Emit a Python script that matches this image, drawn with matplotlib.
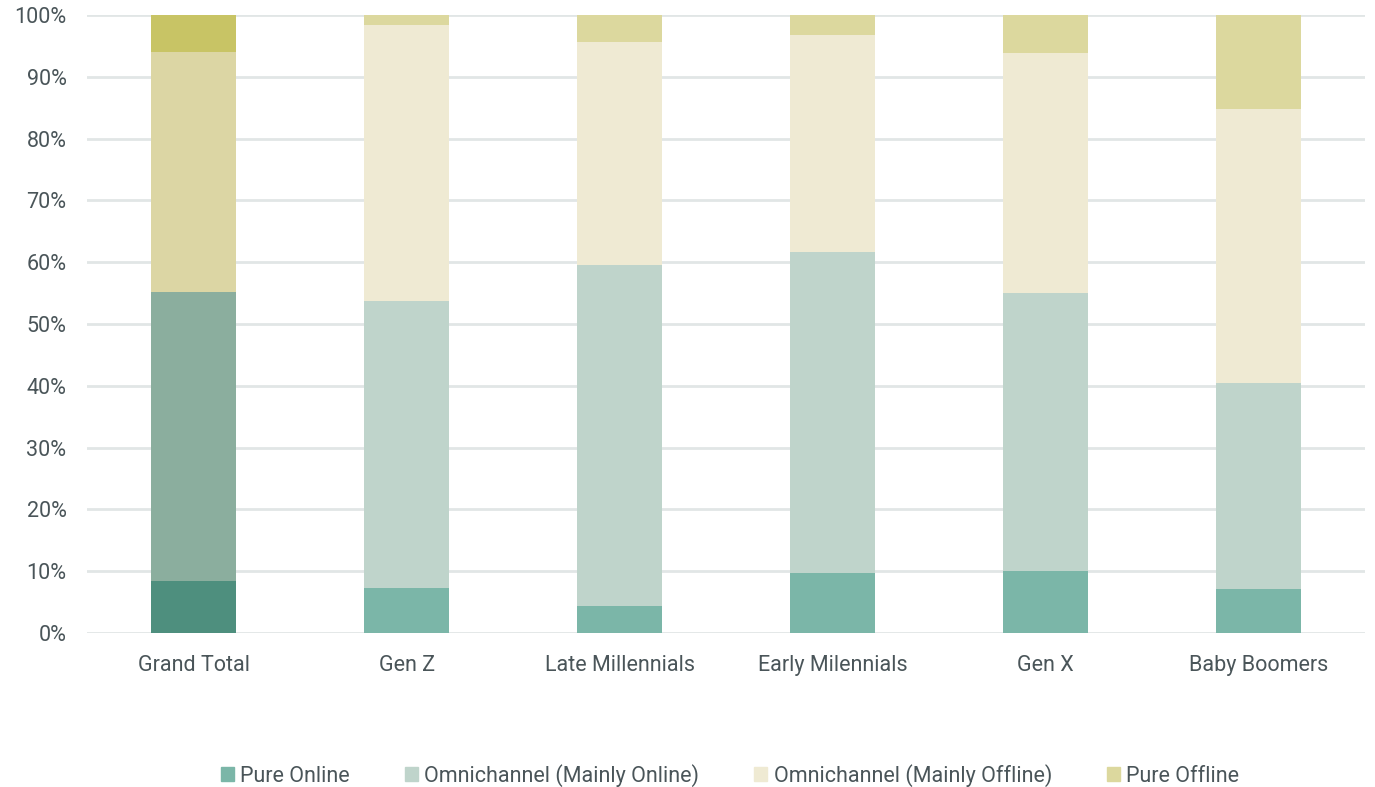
import numpy as np
import matplotlib.pyplot as plt

categories = ["Grand Total", "Gen Z", "Late Millennials", "Early Milennials", "Gen X", "Baby Boomers"]
series = ["Pure Online", "Omnichannel (Mainly Online)", "Omnichannel (Mainly Offline)", "Pure Offline"]

pure_online = [8.4, 7.3, 4.4, 9.7, 10.0, 7.1]
omni_online = [46.8, 46.4, 55.1, 52.0, 45.0, 33.4]
omni_offline = [38.8, 44.7, 36.1, 35.1, 38.9, 44.3]
pure_offline = [6.0, 1.6, 4.4, 3.2, 6.1, 15.2]

light = ["#7BB6A8", "#BFD4CB", "#EFEAD3", "#DCD89E"]
dark = ["#4E8F7E", "#8BAE9E", "#DCD6A4", "#C8C465"]
text_col = "#4A5559"

plt.rcParams['font.family'] = ['Roboto', 'DejaVu Sans']

fig = plt.figure(figsize=(13.75, 7.87), dpi=100)
ax = fig.add_axes([0.0635, 0.1957, 0.929, 0.7853])

x = np.arange(len(categories))
bottom = np.zeros(len(categories))
for i, vals in enumerate([pure_online, omni_online, omni_offline, pure_offline]):
    cols = [dark[i]] + [light[i]] * (len(categories) - 1)
    ax.bar(x, vals, 0.4, bottom=bottom, color=cols, label=series[i], zorder=3)
    bottom += np.array(vals)

ax.set_xlim(-0.5, len(categories) - 0.5)
ax.set_ylim(0, 100)
ax.set_yticks(np.arange(0, 101, 10))
ax.set_yticklabels([f"{v}%" for v in range(0, 101, 10)])
ax.set_xticks(x)
ax.set_xticklabels(categories)
ax.grid(axis='y', color='#E1E6E6', linewidth=2, zorder=0)
for s in ax.spines.values():
    s.set_visible(False)
ax.tick_params(length=0, labelsize=15.5, colors=text_col)
ax.tick_params(axis='y', pad=15)
ax.tick_params(axis='x', pad=15.5)

handles = [plt.Rectangle((0, 0), 1, 1, color=c) for c in light]
fig.legend(handles, series, loc='center', bbox_to_anchor=(0.531, 0.015), ncol=4,
           frameon=False, fontsize=15.5, labelcolor=text_col, handlelength=0.6,
           handleheight=0.6, handletextpad=0.3, columnspacing=2.55)

fig.savefig("out.png")
